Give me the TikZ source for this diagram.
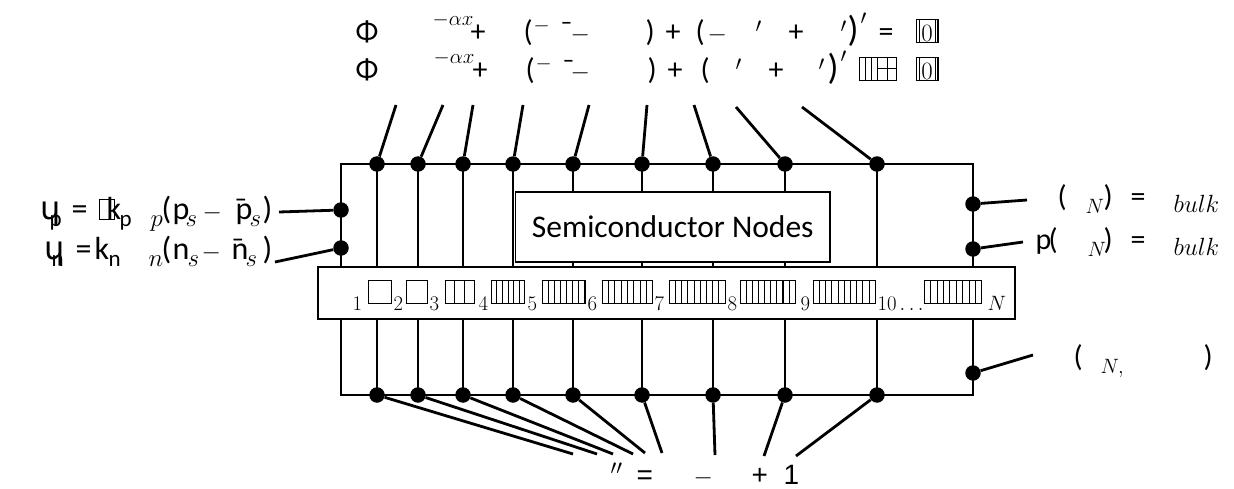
\documentclass[tikz,border=0pt]{standalone}
\usepackage{fontspec}
\setmainfont{Carlito}
\newfontfamily\dejavu{DejaVu Sans}
\newfontfamily\arialf{Liberation Sans}
\usepackage{tikz}

% put #2 at #1 pt from the left end of a text line
\newcommand\gat[2]{\rlap{\hspace*{#1pt}#2}}
% small lowered and raised pieces
\newcommand\dn[1]{\raisebox{-7pt}{\fontsize{21}{21}\selectfont$#1$}}
\newcommand\dnb[1]{\raisebox{-7pt}{\fontsize{23}{23}\selectfont$#1$}}
\newcommand\hi[2]{\raisebox{#1pt}{\fontsize{21}{21}\selectfont$#2$}}
% empty glyph boxes: cells, cell width, height
\newcommand\tofu[3]{{\setlength\fboxsep{0pt}\setlength\fboxrule{1.1pt}%
  \fbox{\rule{0pt}{#3pt}\hspace*{#2pt}%
  \ifnum#1>1 \foreach \tofun in {2,...,#1}{\vrule width 1.1pt\hspace*{#2pt}}\fi}}}
\newcommand\tofuzero{{\setlength\fboxsep{0pt}\setlength\fboxrule{1.1pt}%
  \fbox{\rule{0pt}{22pt}\hspace*{2pt}\vrule width 0.8pt\makebox[15pt]{\fontsize{26}{26}\selectfont$0$}\vrule width 0.8pt\hspace*{2pt}}}}
\newcommand\tofugrid{{\setlength\fboxsep{0pt}\setlength\fboxrule{1.1pt}%
  \fbox{\rule{0pt}{22pt}\rlap{\raisebox{11pt}{\rule{18pt}{1.1pt}}}\hspace*{9pt}\vrule width 1.1pt\hspace*{8pt}}}}

\begin{document}
\begin{tikzpicture}[x=1pt,y=-1pt,
  wire/.style={line width=2.8pt},
  dot/.style={circle,fill=black,inner sep=0pt,minimum size=15.5pt},
  frame/.style={draw=black,fill=white,line width=1.2pt,inner sep=0pt},
  lbl/.style={anchor=base west,inner sep=0pt,font=\fontsize{30}{36}\selectfont}]
\useasboundingbox (0,0) rectangle (1234,489);

% outer contour
\draw[wire] (341,164) rectangle (973,395);

% columns of semiconductor nodes
\foreach \x/\tx/\ty/\bx/\by [count=\i] in {377/396/105/573/454, 418/443/105/597/454,
    463/473/105/613/454, 513/523/105/633/454, 573/589/105/645/453, 642/647/105/662/453,
    713/694/105/715/455, 785/736/107/764/456, 877/802/107/796/456} {
  \coordinate (ct\i) at (\x,164);
  \coordinate (cb\i) at (\x,395);
  \coordinate (te\i) at (\tx,\ty);
  \coordinate (be\i) at (\bx,\by);
  \draw[wire] (ct\i) -- (cb\i);
}

\node[frame,minimum width=314.5pt,minimum height=70pt,font=\fontsize{31.5}{36}\selectfont]
  (semi) at (672.75,227) {Semiconductor Nodes};
\node[frame,minimum width=697pt,minimum height=52pt] (strip) at (666.5,293) {};

% node indices
\node[lbl] (ids) at (352,303) {\gat{0}{\dn{1}}\gat{15}{\tofu{1}{22}{22}}\gat{41}{\dn{2}}%
  \gat{53}{\tofu{1}{20}{22}}\gat{77}{\dn{3}}\gat{92}{\tofu{3}{8.5}{22}}\gat{126}{\dn{4}}%
  \gat{138}{\tofu{6}{4.5}{22}}\gat{175}{\dn{5}}\gat{189}{\tofu{7}{5}{22}}\gat{235}{\dn{6}}%
  \gat{249}{\tofu{8}{5.2}{22}}\gat{302}{\dn{7}}\gat{316}{\tofu{9}{5.1}{22}}\gat{375}{\dn{8}}%
  \gat{387}{\tofu{9}{5}{22}}\gat{448}{\dn{9}}\gat{460}{\tofu{10}{5.1}{22}}\gat{525}{\dn{10}}%
  \gat{547}{\dn{\ldots}}\gat{571}{\tofu{9}{5.3}{22}}\gat{635}{\dn{N}}};

% dots and leads
\foreach \i in {1,...,9} {
  \node[dot] (t\i) at (ct\i) {};
  \node[dot] (b\i) at (cb\i) {};
  \draw[wire] (t\i) -- (te\i);
  \draw[wire] (b\i) -- (be\i);
}
\node[dot] (l1) at (341,210) {};
\node[dot] (l2) at (341,248) {};
\node[dot] (r1) at (973,204) {};
\node[dot] (r2) at (973,249) {};
\node[dot] (r3) at (973,373) {};
\coordinate (le1) at (279,212);
\coordinate (le2) at (275,262);
\coordinate (re1) at (1027,200);
\coordinate (re2) at (1023,242);
\coordinate (re3) at (1033,355);
\draw[wire] (l1) -- (le1);
\draw[wire] (l2) -- (le2);
\draw[wire] (r1) -- (re1);
\draw[wire] (r2) -- (re2);
\draw[wire] (r3) -- (re3);

% equations on top
\node[lbl] (eqa) at (355,42) {\gat{0}{Φ}\gat{77}{\hi{16}{-\alpha x}}\gat{115}{+}\gat{168}{(}%
  \gat{178}{\hi{10}{-}}\gat{205}{¯}\gat{215}{$-$}\gat{290}{)}\gat{310}{+}\gat{340}{(}%
  \gat{352}{$-$}\gat{400}{${}'$}\gat{433}{+}\gat{485}{${}'$}%
  \gat{492}{\fontsize{36}{36}\selectfont)}\gat{505}{\raisebox{8pt}{${}'$}}\gat{523}{=}%
  \gat{560}{\tofuzero}};
\node[lbl] (eqb) at (355,80) {\gat{0}{Φ}\gat{78}{\hi{16}{-\alpha x}}\gat{117}{+}\gat{170}{(}%
  \gat{180}{\hi{10}{-}}\gat{207}{¯}\gat{215}{$-$}\gat{292}{)}\gat{312}{+}\gat{345}{(}%
  \gat{380}{${}'$}\gat{413}{+}\gat{463}{${}'$}%
  \gat{472}{\fontsize{36}{36}\selectfont)}\gat{485}{\raisebox{8pt}{${}'$}}%
  \gat{503}{\tofu{3}{5}{22}\kern-1.1pt\tofugrid}\gat{560}{\tofuzero}};

% boundary conditions, left
\node[lbl,font=\fontsize{32}{38}\selectfont] (bcp) at (40,219) {\gat{0}{\dejavu ɥ}%
  \gat{9}{\dnb{\mathrm{p}}}\gat{31}{=}\gat{58}{\tofu{1}{14}{19}}\gat{66}{k}%
  \gat{79}{\dnb{\mathrm{p}}}\gat{110}{\dnb{p}}\gat{121}{(}\gat{132}{p}\gat{145}{\dnb{s}}%
  \gat{162}{$-$}\gat{195}{p}\gat{194}{¯}\gat{209}{\dnb{s}}\gat{222}{)}};
\node[lbl,font=\fontsize{32}{38}\selectfont] (bcn) at (44,259) {\gat{0}{\dejavu ɥ}%
  \gat{7}{\dnb{\mathrm{n}}}\gat{31}{=}\gat{50}{k}\gat{64}{\dnb{\mathrm{n}}}%
  \gat{104}{\dnb{n}}\gat{117}{(}\gat{128}{n}\gat{143}{\dnb{s}}\gat{157}{$-$}%
  \gat{187}{n}\gat{187}{¯}\gat{201}{\dnb{s}}\gat{218}{)}};

% boundary conditions, right
\node[lbl] (bulkn) at (1057,207) {\gat{0}{(}\gat{28}{\dn{N}}\gat{46}{)}\gat{73}{=}%
  \gat{116}{\raisebox{-6pt}{\fontsize{26}{26}\selectfont$bulk$}}};
\node[lbl] (bulkp) at (1035,249) {\gat{0}{p}\gat{13}{(}\gat{52}{\dn{N}}\gat{68}{)}\gat{95}{=}%
  \gat{138}{\raisebox{-6pt}{\fontsize{26}{26}\selectfont$bulk$}}};
\node[lbl] (bulkv) at (1073,366) {\gat{0}{(}\gat{27}{\dn{N,}}\gat{130}{)}};

% bottom equation
\node[lbl,font=\arialf\fontsize{28}{34}\selectfont] (eqc) at (610,484)
  {\gat{0}{${}''$}\gat{26}{=}\gat{83}{$-$}\gat{141}{+}\gat{173}{1}};
\end{tikzpicture}
\end{document}
